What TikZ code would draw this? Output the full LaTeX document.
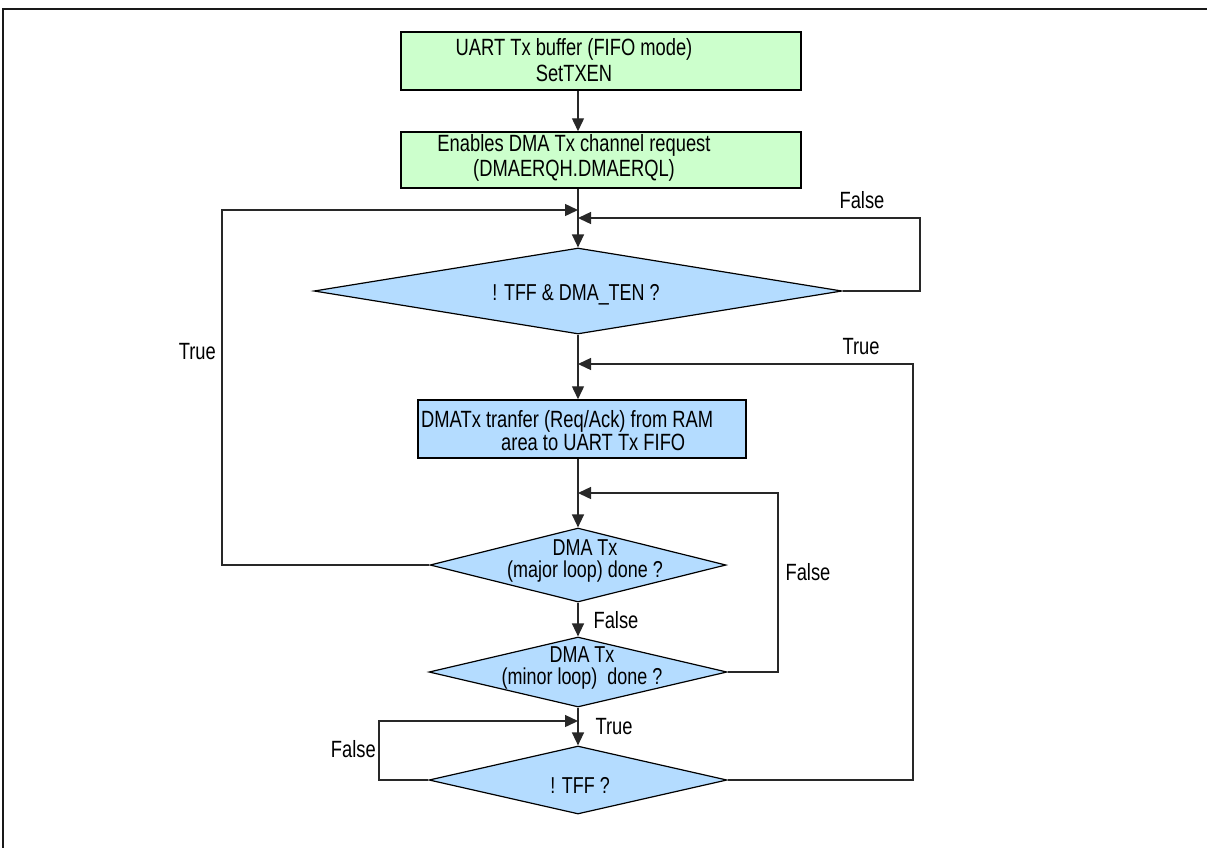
\documentclass[tikz,border=0pt]{standalone}
\usepackage{fontspec}
\setmainfont{Liberation Sans}[FakeStretch=0.78]
\usetikzlibrary{shapes.geometric,arrows.meta}
\definecolor{boxgreen}{RGB}{204,255,204}
\definecolor{boxblue}{RGB}{180,220,255}
\definecolor{linegray}{RGB}{40,40,40}
\begin{document}
\begin{tikzpicture}[x=1pt,y=-1pt,
  conn/.style={draw=linegray,line width=1.4pt},
  arr/.style={conn,-{Triangle[length=13pt,width=12pt]}},
  greenbox/.style={draw=black,line width=1.5pt,fill=boxgreen,inner sep=0pt,minimum width=400pt},
  bluebox/.style={draw=black,line width=1.5pt,fill=boxblue,inner sep=0pt},
  decision/.style={diamond,draw=black,line width=1.2pt,fill=boxblue,inner sep=0pt},
  txt/.style={inner sep=0pt,align=center,font=\fontsize{23}{22}\selectfont},
  boxtxt/.style={inner sep=0pt,align=center,font=\fontsize{23.5}{26}\selectfont},
  lbl/.style={inner sep=0pt,font=\fontsize{23.5}{24}\selectfont}]
\useasboundingbox (0,0) rectangle (1207,847);
% frame
\draw[line width=2.4pt,draw=black!90] (3,850) -- (3,9) -- (1210,9);

\coordinate (colx) at (578,0);

% boxes
\node[greenbox,minimum height=58pt] (b1) at (601,61) {};
\node[boxtxt] (t1) at (574,60) {UART Tx buffer (FIFO mode)\\SetTXEN};
\node[greenbox,minimum height=56pt] (b2) at (601,160) {};
\node[boxtxt,font=\fontsize{23.5}{25}\selectfont] (t2) at (574,158) {Enables DMA Tx channel request\\(DMAERQH.DMAERQL)};

\node[decision,minimum width=528pt,minimum height=86pt] (d1) at (578,291) {};
\node[txt] (t3) at (576,295) {! TFF \& DMA\_TEN ?};

\node[bluebox,minimum width=328pt,minimum height=58pt] (dma) at (582,429) {};
\node[txt,font=\fontsize{23.5}{23}\selectfont,align=left,anchor=west] (t4) at (421,431)
  {DMATx tranfer (Req/Ack) from RAM\\\hspace*{80pt}area to UART Tx FIFO};

\node[decision,minimum width=296pt,minimum height=74pt] (d2) at (578,565) {};
\node[txt] (t5) at (585,561) {DMA Tx\\(major loop) done ?};

\node[decision,minimum width=298pt,minimum height=70pt] (d3) at (578,672) {};
\node[txt] (t6) at (582,668) {DMA Tx\\(minor loop)\ \ done ?};

\node[decision,minimum width=298pt,minimum height=68pt] (d4) at (578,780) {};
\node[txt] (t7) at (580,785) {! TFF ?};

% junction points
\coordinate (j1a) at (578,210);
\coordinate (j1b) at (578,218);
\coordinate (tl) at (222,210);
\coordinate (fr) at (920,218);
\coordinate (j2) at (578,364);
\coordinate (tr) at (913,364);
\coordinate (j3) at (578,493);
\coordinate (mr) at (778,493);
\coordinate (j4) at (578,721);
\coordinate (fl) at (379,721);

% main flow
\draw[arr] (b1.south -| colx) -- (b2.north -| colx);
\draw[arr] (b2.south -| colx) -- (d1.north);
\draw[arr] (d1.south) -- (dma.north -| colx);
\draw[arr] (dma.south -| colx) -- (d2.north);
\draw[arr] (d2.south) -- (d3.north);
\draw[arr] (d3.south) -- (d4.north);

% loops
\draw[arr] (d2.west) -| (tl) -- (j1a);
\draw[arr] (d1.east) -| (fr) -- (j1b);
\draw[arr] (d4.east) -| (tr) -- (j2);
\draw[arr] (d3.east) -| (mr) -- (j3);
\draw[arr] (d4.west) -| (fl) -- (j4);

% labels
\node[lbl,anchor=east] (l1) at (216,352) {True};
\node[lbl] (l2) at (862,200) {False};
\node[lbl] (l3) at (861,347) {True};
\node[lbl] (l4) at (808,572) {False};
\node[lbl] (l5) at (616,620) {False};
\node[lbl] (l6) at (614,727) {True};
\node[lbl,anchor=east] (l7) at (376,749) {False};
\end{tikzpicture}
\end{document}
